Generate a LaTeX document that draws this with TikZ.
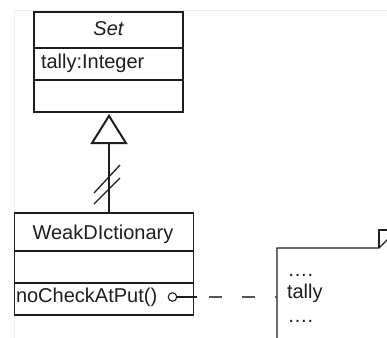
\documentclass[tikz,border=0pt]{standalone}
\usepackage{fontspec}
\setmainfont{Liberation Sans}
\usetikzlibrary{arrows.meta}
\definecolor{ink}{HTML}{1E1E1E}
\definecolor{dashink}{HTML}{555555}
\definecolor{frame}{HTML}{EEEEEE}
\tikzset{
  classbox/.style={draw=ink, line width=1.3bp, inner sep=0pt, outer sep=0pt},
  txt/.style={inner sep=0pt, outer sep=0pt, text=ink, font=\fontsize{20bp}{24bp}\selectfont},
  gen/.style={draw=ink, line width=2bp, -{Triangle[open, length=30bp, width=37bp]}},
  slash/.style={draw=ink, line width=1.3bp},
  notedash/.style={draw=dashink, line width=1.3bp, dash pattern=on 13bp off 20bp, dash phase=21bp},
}
\begin{document}
\begin{tikzpicture}[x=1bp,y=-1bp]
\useasboundingbox (0,0) rectangle (387,338);
\clip (0,0) rectangle (387,338);
\fill[white] (0,0) rectangle (387,338);
% faint frame
\draw[frame, line width=1bp] (14.5,340) -- (14.5,10.5) -- (390,10.5);
% Set class
\node[classbox, minimum width=149bp, minimum height=100bp] (set) at (108.5,62) {};
\draw[ink, line width=1.3bp] (34,48) -- (183,48);
\draw[ink, line width=1.3bp] (34,80) -- (183,80);
\node[txt, anchor=base, font=\fontsize{20bp}{24bp}\selectfont\itshape] (setname) at (108.5,35) {Set};
\node[txt, anchor=base west] (attr) at (41,68) {tally:Integer};
% WeakDIctionary class
\node[classbox, minimum width=179bp, minimum height=102bp] (wd) at (104,264) {};
\draw[ink, line width=1.3bp] (14.5,251) -- (193.5,251);
\draw[ink, line width=1.3bp] (14.5,283) -- (193.5,283);
\node[txt, anchor=base] (wdname) at (103,239) {WeakDIctionary};
\node[txt, anchor=base west] (op) at (16,302) {noCheckAtPut()};
\node[circle, draw=ink, line width=1.1bp, minimum size=8.5bp, inner sep=0pt] (opc) at (172.5,297) {};
% generalization
\coordinate (genend) at (109,114);
\draw[gen] (wd.north -| genend) -- (genend);
\draw[slash] (120,165) -- (94,193);
\draw[slash] (120,178) -- (94,204);
% note
\node[inner sep=0pt, outer sep=0pt, minimum width=120bp, minimum height=104bp] (note) at (337,300) {};
\draw[ink, line width=1.3bp] (note.south west) -- (note.north west) -- ([xshift=-18bp]note.north east) -- ([yshift=18bp]note.north east) -- (note.south east);
\draw[ink, line width=1.1bp] ([xshift=-18bp]note.north east) -- ([xshift=-18bp,yshift=18bp]note.north east) -- ([yshift=18bp]note.north east);
\node[txt, anchor=base west] (n1) at (287.5,276) {….};
\node[txt, anchor=base west] (n2) at (287,298) {tally};
\node[txt, anchor=base west] (n3) at (287.5,322) {….};
% connector
\coordinate (solidend) at (197,297);
\draw[ink, line width=1.1bp] (opc.east) -- (solidend);
\draw[notedash] (solidend) -- (note.west |- opc);
\end{tikzpicture}
\end{document}
